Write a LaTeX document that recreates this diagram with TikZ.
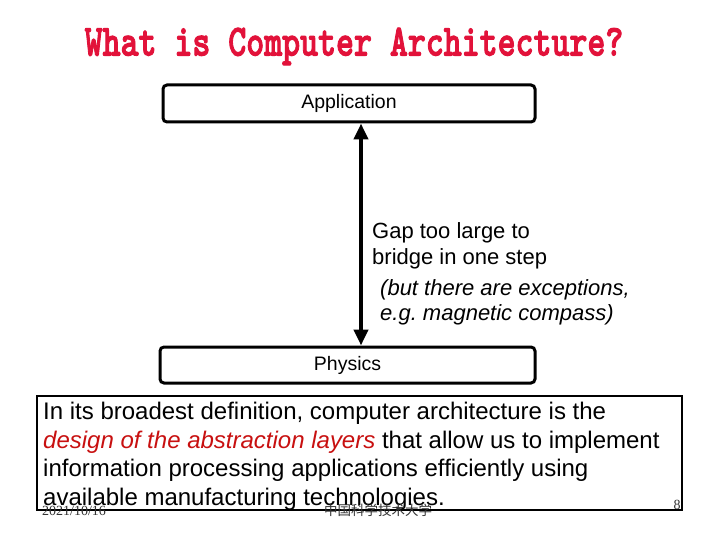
\documentclass[tikz,border=0pt]{standalone}
\usepackage{fontspec}
\usepackage{graphicx}
\setmainfont{Liberation Sans}
\newfontfamily\titlefont[FakeBold=2.5]{lmmonolt10-bold.otf}
\newfontfamily\footfont{Liberation Serif}
\newfontfamily\cjk{Noto Sans CJK SC}
\usetikzlibrary{arrows.meta}
\definecolor{titlered}{RGB}{226,18,58}
\definecolor{bodyred}{RGB}{200,16,16}
\frenchspacing
\tikzset{
  layer/.style={draw=black, line width=3pt, rounded corners=4pt, fill=white,
    font=\fontsize{19.5}{22}\selectfont, inner sep=0pt},
  gaptext/.style={anchor=base west, inner sep=0pt, font=\fontsize{22}{25}\selectfont},
  bodytext/.style={anchor=base west, inner sep=0pt, font=\fontsize{24}{28.7}\selectfont},
  foot/.style={inner sep=0pt, font=\fontsize{14}{16}\selectfont, text=black!80},
  bigarrow/.style={line width=4pt, {Triangle[length=16pt,width=14pt]}-{Triangle[length=16pt,width=14pt]}}
}
\begin{document}
\begin{tikzpicture}[x=1pt,y=-1pt]
\useasboundingbox[fill=white] (0,0) rectangle (720,540);
% title
\node[anchor=base, inner sep=0pt, text=titlered] (title) at (354,55.5)
  {\scalebox{1}[1.3]{\titlefont\fontsize{34.2}{36}\selectfont What is Computer Architecture?}};
% layers
\node[layer, minimum width=372pt, minimum height=37pt] (app) at (349,103.5) {Application};
\node[layer, minimum width=375pt, minimum height=36pt] (phys) at (347.5,365) {Physics};
\coordinate (ax) at (361,0);
\draw[bigarrow] (app.south -| ax) -- (phys.north -| ax);
% gap text
\node[gaptext] (g1) at (372,239) {Gap too large to};
\node[gaptext] (g2) at (372,264) {bridge in one step};
\node[gaptext] (g3) at (380,295) {\itshape (but there are exceptions,};
\node[gaptext] (g4) at (380,320) {\itshape e.g. magnetic compass)};
% definition box
\draw[line width=1.2pt] (37,396) rectangle (682,510);
\node[bodytext] (b1) at (43,419) {In its broadest definition, computer architecture is the};
\node[bodytext] (b2) at (43,448) {\textcolor{bodyred}{\itshape design of the abstraction layers} that allow us to implement};
\node[bodytext] (b3) at (43,476) {information processing applications efficiently using};
\node[bodytext] (b4) at (43,505) {available manufacturing technologies.};
% footer
\node[foot, anchor=base west] (date) at (42,515) {\footfont 2021/10/16};
\node[foot, anchor=base] (univ) at (378,515) {\cjk\fontsize{13.5}{16}\selectfont 中国科学技术大学};
\node[foot, anchor=base] (page) at (677,509) {\footfont 8};
\end{tikzpicture}
\end{document}
